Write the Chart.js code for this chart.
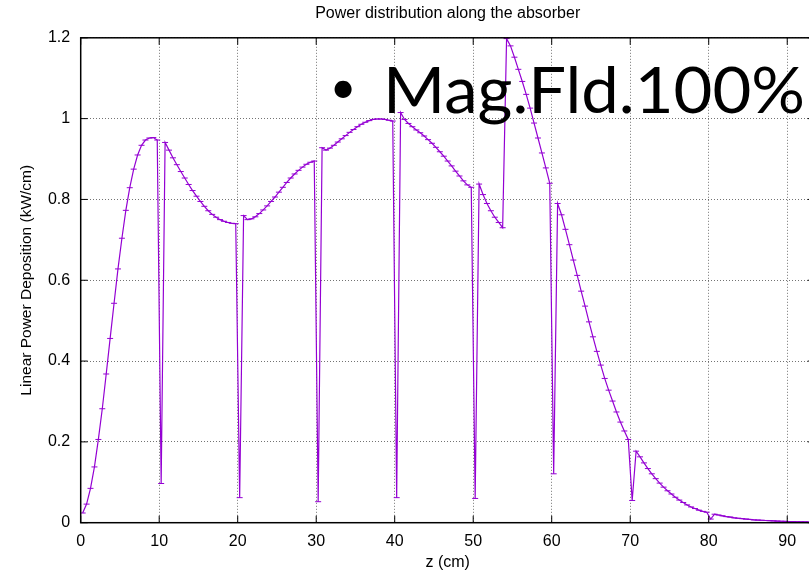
<!DOCTYPE html>
<html lang="en">

<head>
    <meta charset="UTF-8">
    <meta name="viewport" content="width=device-width, initial-scale=1.0">
    <script src="https://cdn.jsdelivr.net/npm/chart.js@4"></script>
    <title>Power distribution along the absorber</title>
    <style>
        html,
        body {
            margin: 0;
            padding: 0;
            overflow: hidden;
            background: #fff;
        }

        #wrap {
            width: 809px;
            height: 576px;
            overflow: hidden;
        }
    </style>
</head>

<body>

    <div id="wrap">
        <canvas id="myChart" width="830" height="576"></canvas>
    </div>

    <script>

        // bins are 0.5 cm wide, first bin centre at 0.25 cm
        const zFirst = 0.25;
        const zStep = 0.5;

        // linear power deposition (kW/cm), one value per bin
        const powerDeposition = [
            // 0.25 - 9.75
            0.024, 0.046, 0.085, 0.138, 0.206, 0.282, 0.368, 0.456, 0.543, 0.628,
            0.704, 0.773, 0.829, 0.875, 0.910, 0.934, 0.947, 0.952, 0.953, 0.947,
            // gap at 10
            0.097,
            // 10.75 - 19.75
            0.941, 0.922, 0.903, 0.886, 0.869, 0.853, 0.837, 0.822, 0.808, 0.795,
            0.783, 0.772, 0.763, 0.756, 0.750, 0.746, 0.743, 0.741, 0.740,
            // gap at 20
            0.062,
            // 20.75 - 29.75
            0.760, 0.750, 0.752, 0.757, 0.765, 0.774, 0.784, 0.795, 0.806, 0.818,
            0.830, 0.842, 0.853, 0.863, 0.872, 0.880, 0.887, 0.892, 0.895,
            // gap at 30
            0.052,
            // 30.75 - 39.75
            0.928, 0.922, 0.927, 0.934, 0.942, 0.950, 0.958, 0.966, 0.973, 0.980,
            0.986, 0.991, 0.995, 0.998, 0.999, 0.999, 0.998, 0.996, 0.994,
            // gap at 40
            0.062,
            // 40.75 - 49.75
            1.015, 0.998, 0.988, 0.980, 0.972, 0.965, 0.957, 0.948, 0.939, 0.929,
            0.918, 0.907, 0.895, 0.883, 0.870, 0.858, 0.846, 0.836, 0.830,
            // gap at 50
            0.060,
            // 50.75 - 53.75
            0.838, 0.812, 0.790, 0.772, 0.756, 0.743, 0.730,
            // 54.25 - 59.75
            1.198, 1.180, 1.152, 1.122, 1.092, 1.060, 1.026, 0.989, 0.952, 0.915, 0.878, 0.840,
            // gap at 60
            0.121,
            // 60.75 - 69.75
            0.790, 0.762, 0.726, 0.688, 0.650, 0.612, 0.573, 0.536, 0.497, 0.460,
            0.424, 0.390, 0.357, 0.328, 0.301, 0.274, 0.249, 0.227, 0.206,
            // gap at 70
            0.055,
            // 70.75 - 79.75
            0.177, 0.163, 0.148, 0.134, 0.121, 0.109, 0.098, 0.088, 0.079, 0.071,
            0.063, 0.056, 0.050, 0.044, 0.039, 0.035, 0.031, 0.028, 0.026,
            // gap at 80
            0.009,
            // 80.75 - 93.25
            0.021, 0.019, 0.017, 0.015, 0.014, 0.012, 0.011, 0.010, 0.009, 0.008,
            0.007, 0.0065, 0.006, 0.0055, 0.005, 0.0045, 0.004, 0.0036, 0.0032, 0.0029,
            0.0026, 0.0023, 0.0021, 0.0019, 0.0017, 0.0015
        ];

        const xTicks = [0, 10, 20, 30, 40, 50, 60, 70, 80, 90];
        const yTicks = [0, 0.2, 0.4, 0.6, 0.8, 1, 1.2];

        const slideText = 'Mag.Fld.100%';

        const fonte = "'Liberation Sans', Arial, sans-serif";
        const roxo = '#9400d3';

        let pontos = [];
        for (let i = 0; i < powerDeposition.length; i++) {
            pontos.push({ x: zFirst + i * zStep, y: powerDeposition[i] });
        }

        // gnuplot style frame with inward tick marks
        const moldura = {
            id: 'moldura',
            afterDatasetsDraw(chart) {
                const { ctx, chartArea: a, scales } = chart;
                ctx.save();
                ctx.strokeStyle = '#000';
                ctx.lineWidth = 1;
                ctx.beginPath();
                xTicks.forEach(function (v) {
                    const px = scales.x.getPixelForValue(v);
                    ctx.moveTo(px, a.bottom);
                    ctx.lineTo(px, a.bottom - 7);
                    ctx.moveTo(px, a.top);
                    ctx.lineTo(px, a.top + 7);
                });
                yTicks.forEach(function (v) {
                    const py = scales.y.getPixelForValue(v);
                    ctx.moveTo(a.left, py);
                    ctx.lineTo(a.left + 7, py);
                    ctx.moveTo(a.right, py);
                    ctx.lineTo(a.right - 7, py);
                });
                ctx.stroke();
                ctx.lineWidth = 1.5;
                ctx.strokeRect(a.left, a.top, a.right - a.left, a.bottom - a.top);
                ctx.restore();
            }
        };

        // the big slide label pasted over the plot
        const rotulo = {
            id: 'rotulo',
            afterDraw(chart) {
                const ctx = chart.ctx;
                ctx.save();
                ctx.fillStyle = '#000';
                ctx.textBaseline = 'alphabetic';
                ctx.textAlign = 'center';
                ctx.font = "46px Lato, 'Open Sans', sans-serif";
                ctx.fillText('\u2022', 343, 103);
                ctx.textAlign = 'left';
                ctx.font = "63px Lato, 'Open Sans', sans-serif";
                const w = ctx.measureText(slideText).width;
                ctx.translate(383, 113);
                ctx.scale(422 / w, 1);
                ctx.fillText(slideText, 0, 0);
                ctx.restore();
            }
        };

        const config = {
            type: 'line',
            data: {
                datasets: [{
                    label: 'power',
                    data: pontos,
                    borderColor: roxo,
                    borderWidth: 1.2,
                    pointStyle: 'line',
                    pointRadius: 3,
                    pointBorderColor: roxo,
                    pointBorderWidth: 1,
                    tension: 0
                }]
            },
            options: {
                responsive: false,
                animation: false,
                devicePixelRatio: 1,
                layout: { padding: { right: 15.3 } },
                plugins: {
                    legend: { display: false },
                    tooltip: { enabled: false },
                    title: {
                        display: true,
                        text: 'Power distribution along the absorber',
                        color: '#000',
                        fullSize: false,
                        font: { family: fonte, size: 16, weight: 'normal' },
                        padding: { top: 4, bottom: 14.6 }
                    }
                },
                scales: {
                    x: {
                        type: 'linear',
                        min: 0,
                        max: 93.5,
                        afterBuildTicks: function (s) { s.ticks = xTicks.map(v => ({ value: v })); },
                        afterFit: function (s) { s.height = 53.3; },
                        ticks: { color: '#000', padding: 9, font: { family: fonte, size: 16 }, callback: v => String(v) },
                        grid: { color: 'rgba(0,0,0,0.55)', drawTicks: false },
                        border: { display: false, dash: [1, 2] },
                        title: {
                            display: true,
                            text: 'z (cm)',
                            color: '#000',
                            font: { family: fonte, size: 16 },
                            padding: { top: 0, bottom: 3.4 }
                        }
                    },
                    y: {
                        min: 0,
                        max: 1.2,
                        afterBuildTicks: function (s) { s.ticks = yTicks.map(v => ({ value: v })); },
                        afterFit: function (s) { s.width = 80.7; },
                        ticks: { color: '#000', padding: 10.5, font: { family: fonte, size: 16 }, callback: v => String(v) },
                        grid: { color: 'rgba(0,0,0,0.55)', drawTicks: false },
                        border: { display: false, dash: [1, 2] },
                        title: {
                            display: true,
                            text: 'Linear Power Deposition (kW/cm)',
                            color: '#000',
                            font: { family: fonte, size: 15.5 },
                            padding: { top: 17.4, bottom: 0 }
                        }
                    }
                }
            },
            plugins: [moldura, rotulo]
        };

        let myChart = new Chart(document.getElementById('myChart'), config);

    </script>

</body>

</html>
